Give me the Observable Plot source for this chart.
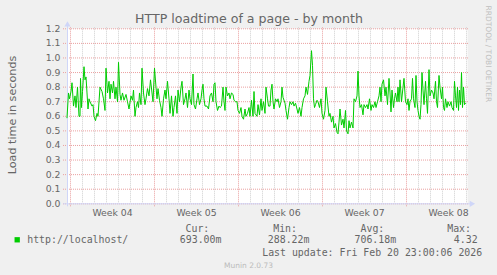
<!DOCTYPE html>
<html><head><meta charset="utf-8">
<script src="https://cdn.jsdelivr.net/npm/d3@7"></script>
<script src="https://cdn.jsdelivr.net/npm/@observablehq/plot@0.6"></script>
<style>
html,body{margin:0;padding:0;background:#F0F0F0;}
#chart{width:497px;height:275px;overflow:hidden;}
</style></head><body><div id="chart"></div>
<script>
// ---- data ----
const title = "HTTP loadtime of a page - by month";
const yLabel = "Load time in seconds";
const weekLabels = ["Week 04", "Week 05", "Week 06", "Week 07", "Week 08"];
const yTicks = [0, 0.1, 0.2, 0.3, 0.4, 0.5, 0.6, 0.7, 0.8, 0.9, 1.0, 1.1, 1.2];
const seriesName = "http://localhost/";
const legendHeaders = ["Cur:", "Min:", "Avg:", "Max:"];
const legendValues = ["693.00m", "288.22m", "706.18m", "4.32"];
const lastUpdate = "Last update: Fri Feb 20 23:00:06 2026";
const footer = "Munin 2.0.73";
const watermark = "RRDTOOL / TOBI OETIKER";
const week04Start = Date.UTC(2026, 0, 19); // Monday of Week 04
// [hours since start of Week 04, load time in seconds]
const samples = [
[-7,0.59],[-4,0.76],[-2,0.72],[1,0.77],[3,0.83],[6,0.67],[9,0.74],[11,0.66],[14,0.80],[17,0.60],
[19,0.60],[20,0.86],[22,0.66],[24,0.77],[27,0.94],[29,0.85],[31,0.87],[33,0.76],[35,0.65],[37,0.72],
[39,0.70],[43,0.67],[45,0.68],[47,0.60],[50,0.57],[53,0.62],[55,0.60],[57,0.70],[59,0.80],[63,0.77],
[66,0.72],[69,0.64],[71,0.93],[74,0.76],[77,0.84],[79,0.72],[81,0.82],[84,0.76],[86,0.84],[89,0.72],
[91,0.80],[94,0.70],[96,0.97],[99,0.75],[101,0.71],[104,0.76],[107,0.71],[111,0.75],[114,0.70],[117,0.65],
[121,0.74],[124,0.71],[126,0.78],[129,0.60],[131,0.66],[134,0.70],[136,0.66],[138,0.76],[141,0.68],[143,0.93],
[146,0.76],[149,0.68],[151,0.72],[154,0.79],[157,0.74],[160,0.85],[163,0.76],[165,0.70],[168,0.93],[171,0.80],
[173,0.72],[175,0.79],[178,0.71],[181,0.66],[183,0.60],[186,0.72],[189,0.78],[191,0.72],[194,0.84],[197,0.72],
[199,0.62],[202,0.74],[205,0.60],[207,0.66],[210,0.74],[213,0.62],[215,0.78],[218,0.70],[221,0.80],[223,0.84],
[226,0.68],[229,0.72],[231,0.76],[234,0.66],[237,0.78],[239,0.72],[242,0.68],[245,0.89],[247,0.68],[250,0.65],
[253,0.72],[255,0.76],[258,0.68],[261,0.72],[263,0.78],[265,0.82],[267,0.72],[269,0.67],[273,0.67],[276,0.65],
[279,0.74],[282,0.76],[285,0.70],[287,0.82],[289,0.83],[291,0.70],[294,0.64],[297,0.67],[299,0.66],[302,0.67],
[305,0.80],[307,0.70],[309,0.64],[311,0.80],[314,0.74],[317,0.76],[319,0.72],[322,0.76],[325,0.75],[327,0.71],
[330,0.70],[333,0.70],[335,0.64],[338,0.62],[341,0.66],[343,0.60],[346,0.58],[349,0.65],[351,0.60],[354,0.62],
[357,0.66],[359,0.60],[362,0.71],[365,0.60],[367,0.77],[369,0.62],[373,0.60],[375,0.68],[378,0.61],[381,0.72],
[383,0.64],[386,0.70],[389,0.62],[391,0.80],[394,0.72],[396,0.67],[399,0.67],[401,0.78],[403,0.82],[405,0.70],
[407,0.65],[410,0.72],[413,0.70],[415,0.72],[418,0.66],[421,0.70],[423,0.80],[425,0.73],[429,0.69],[431,0.64],
[434,0.58],[437,0.66],[439,0.70],[442,0.68],[445,0.70],[447,0.67],[450,0.69],[453,0.65],[455,0.62],[458,0.66],
[461,0.60],[463,0.66],[466,0.72],[469,0.74],[471,0.80],[474,0.75],[477,0.84],[479,0.88],[482,1.05],[484,0.95],
[486,0.72],[488,0.66],[490,0.68],[493,0.71],[495,0.70],[498,0.66],[501,0.72],[503,0.62],[506,0.58],[509,0.64],
[511,0.80],[514,0.70],[517,0.60],[519,0.62],[522,0.56],[525,0.60],[527,0.52],[530,0.55],[533,0.49],[535,0.48],
[537,0.56],[539,0.65],[542,0.54],[545,0.58],[547,0.52],[550,0.64],[552,0.50],[555,0.48],[557,0.57],[559,0.52],
[562,0.56],[565,0.52],[567,0.72],[570,0.70],[573,0.74],[575,0.91],[577,0.74],[579,0.66],[582,0.68],[585,0.61],
[587,0.68],[590,0.66],[593,0.68],[595,0.65],[598,0.72],[601,0.64],[603,0.68],[606,0.66],[609,0.70],[611,0.66],
[614,0.70],[617,0.74],[619,0.80],[621,0.70],[623,0.82],[626,0.85],[629,0.74],[631,0.80],[634,0.68],[637,0.86],
[639,0.76],[641,0.63],[643,0.78],[646,0.66],[648,0.72],[650,0.76],[653,0.70],[655,0.80],[657,0.70],[659,0.85],
[662,0.70],[665,0.80],[667,0.86],[670,0.70],[673,0.68],[675,0.72],[677,0.64],[679,0.70],[682,0.72],[684,0.86],
[686,0.72],[689,0.66],[691,0.88],[693,0.70],[695,0.64],[697,0.60],[699,0.58],[701,0.68],[703,0.90],[705,0.78],
[707,0.68],[710,0.84],[712,0.72],[714,0.62],[717,0.92],[719,0.74],[722,0.78],[725,0.76],[727,0.72],[730,0.84],
[732,0.70],[734,0.66],[737,0.88],[739,0.80],[742,0.72],[744,0.80],[746,0.66],[748,0.64],[750,0.72],[753,0.66],
[755,0.70],[758,0.67],[761,0.70],[763,0.66],[766,0.64],[768,0.84],[770,0.74],[772,0.66],[774,0.80],[776,0.64],
[778,0.78],[780,0.68],[782,0.90],[784,0.66],[786,0.80],[788,0.68],[790,0.69]
];

// ---- layout ----
const W = 497, H = 275, ML = 67, MT = 28.3, MR = 30, MB = 71.7;
const HOUR = 3600e3, DAY = 24 * HOUR;
const xStart = new Date(week04Start - 6 * HOUR);
const xEnd = new Date(week04Start + 794 * HOUR);
const SANS = "DejaVu Sans", MONO = "DejaVu Sans Mono";
const FONT = "#666666", GRID = "#CFCFCF", MGRID = "#EAA0A0", AXIS = "#CFD6F8";

const weeks = d3.utcMonday.range(xStart, xEnd);
const days = d3.utcDay.range(xStart, xEnd).filter(d => d.getUTCDay() !== 1);
const weekMids = weekLabels.map((l, i) => new Date(week04Start + (i * 7 + 3.5) * DAY));

function at(text, x, y, opts = {}) {
  return Plot.text([text], {
    frameAnchor: "top-left", dx: x - ML, dy: y - MT, text: d => d,
    lineAnchor: "bottom", textAnchor: "start", fill: FONT, fontFamily: SANS, ...opts
  });
}

const legendHeaderX = [185, 272.7, 360, 446.7];
const legendValueX = [179.3, 267.3, 354, 453.3];

const chart = Plot.plot({
  width: W, height: H,
  marginLeft: ML, marginTop: MT, marginRight: MR, marginBottom: MB,
  style: {background: "#F0F0F0", fontFamily: SANS, overflow: "visible"},
  x: {type: "utc", domain: [xStart, xEnd], axis: null},
  y: {domain: [0, 1.2], axis: null},
  marks: [
    Plot.frame({fill: "#FFFFFF", stroke: null}),
    Plot.ruleX(days, {stroke: GRID, strokeDasharray: "1,1", insetTop: -1}),
    Plot.ruleX(weeks, {stroke: MGRID, strokeDasharray: "1,1", insetTop: -1, insetBottom: -3}),
    Plot.ruleY(yTicks, {stroke: MGRID, strokeDasharray: "1,1", insetLeft: -4, insetRight: -2}),
    Plot.ruleY([0], {stroke: AXIS, insetLeft: -4, insetRight: -3}),
    Plot.ruleX([xStart], {stroke: AXIS, insetTop: -4, insetBottom: -3}),
    Plot.line(samples, {x: d => new Date(week04Start + d[0] * HOUR), y: d => d[1], stroke: "#00CC00", strokeWidth: 1}),
    Plot.dot([0], {frameAnchor: "top-left", dx: 0, dy: -4, symbol: "triangle", r: 2.3, fill: AXIS, stroke: null}),
    Plot.dot([0], {frameAnchor: "bottom-right", dx: 4, dy: 0, rotate: 90, symbol: "triangle", r: 2.3, fill: AXIS, stroke: null}),
    Plot.text(yTicks, {y: d => d, frameAnchor: "left", dx: -7, textAnchor: "end", text: d => d3.format(".1f")(d), fontSize: 9.3, fill: FONT}),
    Plot.text(weekLabels, {x: (d, i) => weekMids[i], frameAnchor: "bottom", dy: 12.4, lineAnchor: "bottom", text: d => d, fontSize: 9.3, fill: FONT}),
    at(title, 248.5, 22.5, {textAnchor: "middle", fontSize: 12.6}),
    at(yLabel, 15, 114.5, {textAnchor: "middle", rotate: -90, fontSize: 11.2}),
    at(watermark, 485.5, 5, {rotate: 90, fontSize: 7.5, fill: "#BFBFBF"}),
    Plot.dot([0], {frameAnchor: "top-left", dx: 16.7 - ML, dy: 239.3 - MT, symbol: "square", r: 3, fill: "#00CC00", stroke: null}),
    at(seriesName, 26.7, 242.7, {fontFamily: MONO, fontSize: 9.9}),
    ...legendHeaders.map((h, i) => at(h, legendHeaderX[i], 231.5, {fontFamily: MONO, fontSize: 9.9})),
    ...legendValues.map((v, i) => at(v, legendValueX[i], 242.7, {fontFamily: MONO, fontSize: 9.9})),
    at(lastUpdate, 261.7, 255.5, {fontFamily: MONO, fontSize: 9.9}),
    at(footer, 248, 267.7, {textAnchor: "middle", fontSize: 7.5, fill: "#BBBBBB"})
  ]
});
document.getElementById("chart").appendChild(chart);
</script>
</body></html>
